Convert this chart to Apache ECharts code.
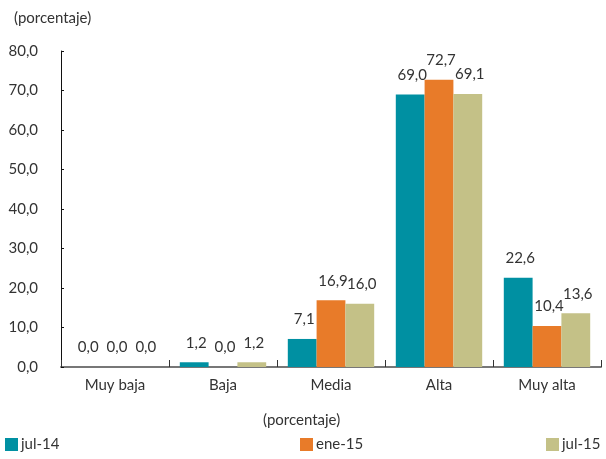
<!DOCTYPE html>
<html>
<head>
<meta charset="utf-8">
<script src="https://cdn.jsdelivr.net/npm/echarts@6/dist/echarts.min.js"></script>
<style>
  html, body { margin: 0; padding: 0; background: #fff; }
  #chart { width: 606px; height: 459px; }
</style>
</head>
<body>
<div id="chart"></div>
<script>
// Distribución por categoría, en porcentaje
const categories = ['Muy baja', 'Baja', 'Media', 'Alta', 'Muy alta'];
const seriesNames = ['jul-14', 'ene-15', 'jul-15'];
const jul14 = [0.0, 1.2, 7.1, 69.0, 22.6];
const ene15 = [0.0, 0.0, 16.9, 72.7, 10.4];
const jul15 = [0.0, 1.2, 16.0, 69.1, 13.6];
const yTicks = [0, 10, 20, 30, 40, 50, 60, 70, 80];

const colors = ['#0090a2', '#e87b29', '#c4c187'];
const FONT = 'Lato, "Open Sans", sans-serif';
const fmt = v => Number(v).toFixed(1).replace('.', ',');

const chart = echarts.init(document.getElementById('chart'), null, { renderer: 'canvas' });

function makeSeries(name, data, color) {
  return {
    name: name,
    type: 'bar',
    data: data,
    barGap: '0%',
    barCategoryGap: '20%',
    itemStyle: { color: color },
    label: {
      show: true,
      position: 'top',
      distance: 12,
      offset: [2, 0],
      color: '#333',
      fontSize: 15,
      fontFamily: FONT,
      formatter: p => fmt(p.value)
    }
  };
}

function legendAt(name, left) {
  return {
    data: [name],
    left: left,
    top: 437,
    itemWidth: 13,
    itemHeight: 13,
    itemGap: 4,
    icon: 'rect',
    textStyle: { color: '#333', fontSize: 15, fontFamily: FONT, padding: [0, 0, 0, -2] },
    padding: 0
  };
}

chart.setOption({
  animation: false,
  color: colors,
  textStyle: { fontFamily: FONT },
  title: [
    { text: '(porcentaje)', left: 9, top: 6, textStyle: { fontSize: 15, fontWeight: 'normal', color: '#333', fontFamily: FONT } },
    { text: '(porcentaje)', left: 258, top: 408, textStyle: { fontSize: 15, fontWeight: 'normal', color: '#333', fontFamily: FONT } }
  ],
  legend: [
    legendAt(seriesNames[0], 5),
    legendAt(seriesNames[1], 300),
    legendAt(seriesNames[2], 546)
  ],
  grid: { left: 61, right: 5, top: 51, bottom: 92, containLabel: false },
  xAxis: {
    type: 'category',
    data: categories,
    axisLine: { show: true, lineStyle: { color: '#777', width: 2 } },
    axisTick: { show: true, inside: true, length: 7, alignWithLabel: false, lineStyle: { color: '#333', width: 1 } },
    axisLabel: { color: '#333', fontSize: 15, fontFamily: FONT, margin: 11 }
  },
  yAxis: {
    type: 'value',
    min: yTicks[0],
    max: yTicks[yTicks.length - 1],
    interval: 10,
    axisLine: { show: true, lineStyle: { color: '#111', width: 1 } },
    axisTick: { show: true, inside: true, length: 3, lineStyle: { color: '#111' } },
    splitLine: { show: false },
    axisLabel: { color: '#333', fontSize: 15, fontFamily: FONT, margin: 23, formatter: v => fmt(v) }
  },
  series: [
    makeSeries(seriesNames[0], jul14, colors[0]),
    makeSeries(seriesNames[1], ene15, colors[1]),
    makeSeries(seriesNames[2], jul15, colors[2])
  ]
});
</script>
</body>
</html>
